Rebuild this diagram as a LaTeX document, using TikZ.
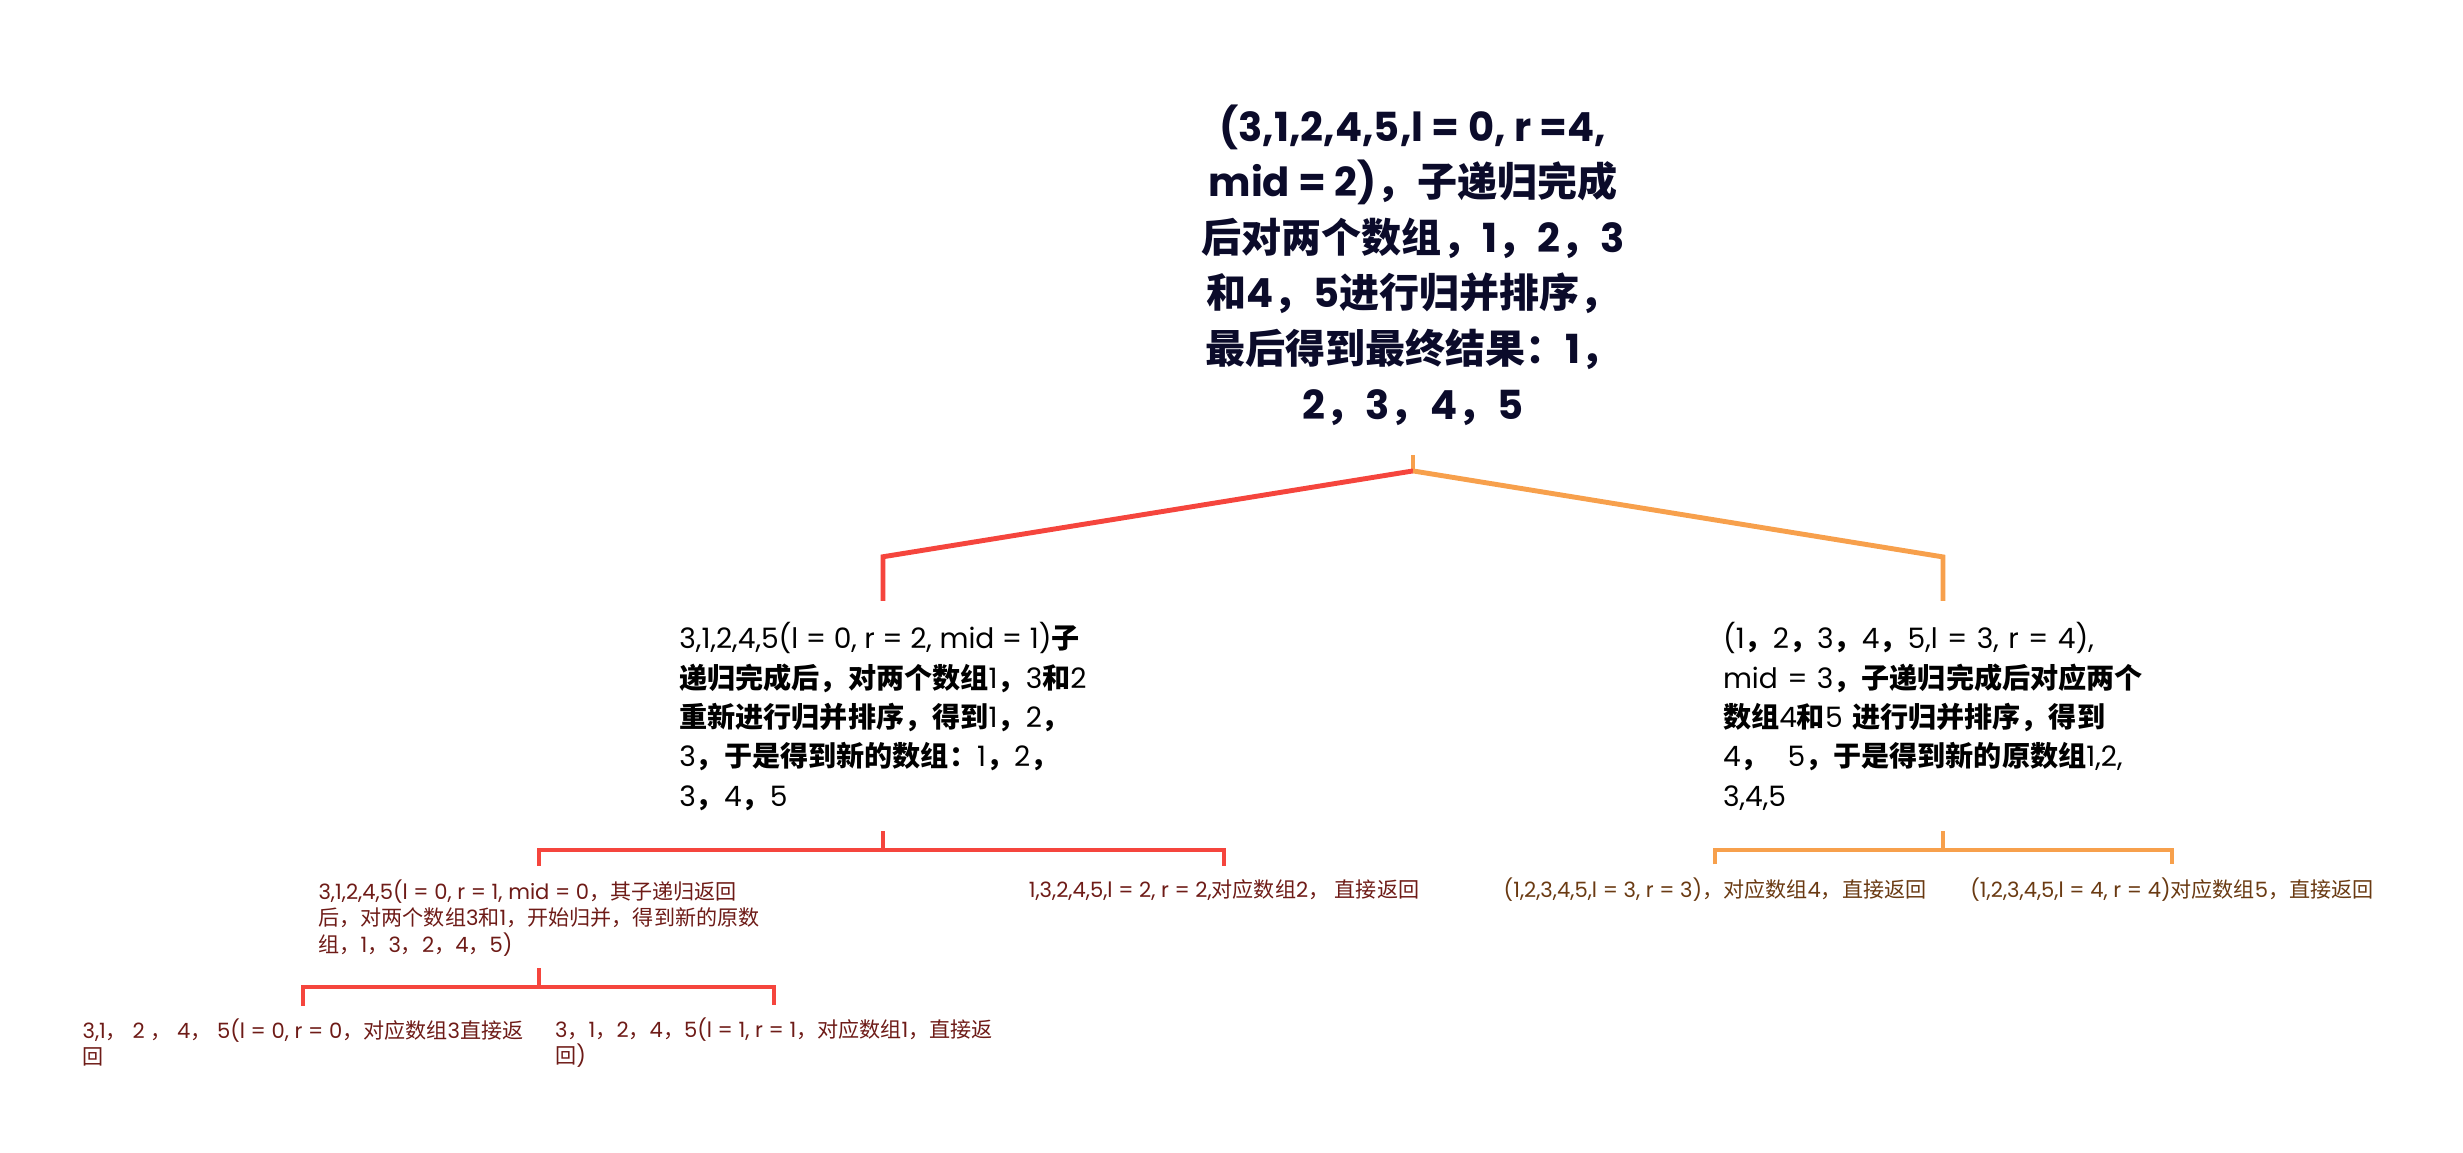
\documentclass[tikz,border=0pt]{standalone}
\usepackage{fontspec}
\setmainfont{Poppins}
\newfontfamily\cjk{Noto Sans CJK SC}

% Chinese characters switch to the CJK font
\XeTeXinterchartokenstate=1
\newXeTeXintercharclass\zhclass
\newcount\zhcount
\zhcount="4E00
\loop
  \XeTeXcharclass\zhcount=\zhclass
  \advance\zhcount by 1
\ifnum\zhcount<"A000 \repeat
\XeTeXcharclass"FF0C=\zhclass
\XeTeXcharclass"FF1A=\zhclass
\newcommand\zhon{\cjk}
\newcommand\zhoff{\rmfamily}
\XeTeXinterchartoks 0 \zhclass = {\zhon}
\XeTeXinterchartoks 4095 \zhclass = {\zhon}
\XeTeXinterchartoks \zhclass 0 = {\zhoff}
\XeTeXinterchartoks \zhclass 4095 = {\zhoff}

\definecolor{rootblue}{HTML}{0B0B2A}
\definecolor{leafred}{HTML}{6E1B17}
\definecolor{leafbrown}{HTML}{6A3A12}
\definecolor{linered}{HTML}{F5453D}
\definecolor{lineorange}{HTML}{F7A04C}

\tikzset{
  rootnode/.style={font=\fontsize{11.4}{15.8}\selectfont\bfseries, text=rootblue, align=center, inner sep=0pt},
  midnode/.style={font={\fontsize{8}{11.2}\selectfont\def\zhon{\cjk\bfseries}\def\zhoff{\rmfamily\mdseries}}, text=black, align=left, inner sep=0pt},
  leafnode/.style={font=\fontsize{6}{7.6}\selectfont, align=left, inner sep=0pt},
  redline/.style={draw=linered, line width=1pt},
  orangeline/.style={draw=lineorange, line width=1pt}
}

\begin{document}
\begin{tikzpicture}
  \useasboundingbox (0,0) rectangle (24.63,-11.52);

  \node[rootnode] (root) at (14.13,-2.65) {(3,1,2,4,5,l = 0, r =4,\\mid = 2)，子递归完成\\后对两个数组，1，2，3\\和4，5进行归并排序，\\最后得到最终结果：1，\\2，3，4，5};

  \node[midnode] (midL) at (8.83,-7.165) {3,1,2,4,5(l = 0, r = 2, mid = 1)子\\递归完成后，对两个数组1，3和2\\重新进行归并排序，得到1，2，\\3，于是得到新的数组：1，2，\\3，4，5};
  \node[midnode, text width=4.4cm] (midR) at (19.43,-7.165) {(1，2，3，4，5,l = 3, r = 4),\\mid = 3，子递归完成后对应两个\\数组4和5 进行归并排序，得到\\4，\ \ 5，于是得到新的原数组1,2,\\3,4,5};

  \node[leafnode, text=leafred] (s1) at (5.39,-9.18) {3,1,2,4,5(l = 0, r = 1, mid = 0，其子递归返回\\后，对两个数组3和1，开始归并，得到新的原数\\组，1，3，2，4，5)};
  \node[leafnode, text=leafred] (s2) at (12.24,-8.90) {1,3,2,4,5,l = 2, r = 2,对应数组2，\ 直接返回};
  \node[leafnode, text=leafbrown] (s3) at (17.15,-8.90) {(1,2,3,4,5,l = 3, r = 3)，对应数组4，直接返回};
  \node[leafnode, text=leafbrown] (s4) at (21.72,-8.90) {(1,2,3,4,5,l = 4, r = 4)对应数组5，直接返回};

  \node[leafnode, text=leafred] (b1) at (3.03,-10.425) {3,1，\ 2 ，\ 4，\ 5(l = 0, r = 0，对应数组3直接返\\回};
  \node[leafnode, text=leafred] (b2) at (7.74,-10.425) {3，1，2，4，5(l = 1, r = 1，对应数组1，直接返\\回)};

  % root to the two halves
  \draw[orangeline] ([yshift=-2.9mm]root.south) -- ([yshift=-4.5mm]root.south) coordinate (rootj);
  \draw[redline, line width=1.4pt] (rootj) -- ([yshift=6.5mm]midL.north) -- ([yshift=2.1mm]midL.north);
  \draw[orangeline, line width=1.4pt] (rootj) -- ([yshift=6.5mm]midR.north) -- ([yshift=2.1mm]midR.north);

  % left half
  \draw[redline] ([yshift=-2mm]midL.south) -- ([yshift=-3.9mm]midL.south) coordinate (midLj);
  \draw[redline] ([yshift=1.3mm]s1.north) |- (midLj) -| ([yshift=1.3mm]s2.north);
  \draw[redline] ([yshift=-1.1mm]s1.south) -- ([yshift=-3mm]s1.south) coordinate (s1j);
  \draw[redline] ([yshift=1.2mm]b1.north) |- (s1j) -| ([yshift=1.2mm]b2.north);

  % right half
  \draw[orangeline] ([yshift=-2mm]midR.south) -- ([yshift=-3.9mm]midR.south) coordinate (midRj);
  \draw[orangeline] ([yshift=1.3mm]s3.north) |- (midRj) -| ([yshift=1.3mm]s4.north);
\end{tikzpicture}
\end{document}
